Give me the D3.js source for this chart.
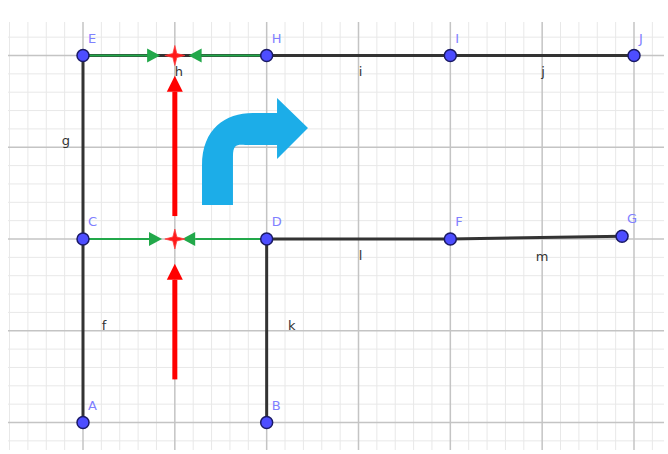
<!DOCTYPE html>
<html>
<head>
<meta charset="utf-8">
<script src="https://cdn.jsdelivr.net/npm/d3@7"></script>
<style>
  html, body { margin: 0; padding: 0; background: #fff; }
  svg { display: block; }
</style>
</head>
<body>
<svg id="chart"></svg>
<script>
// points of the figure (grid units)
var pointNames = ["A", "B", "C", "D", "E", "F", "G", "H", "I", "J"];
var pointX     = [0,   2,   0,   2,   0,   4,   5.87, 2,  4,   6];
var pointY     = [0,   0,   2,   2,   4,   2,   2.03, 4,  4,   4];

// segments: name, from, to
var segNames = ["f", "g", "h", "i", "j", "k", "l", "m"];
var segFrom  = ["C", "E", "E", "H", "I", "D", "D", "F"];
var segTo    = ["A", "C", "H", "I", "J", "B", "F", "G"];

// green vectors (start point -> tip)
var greenStartX = [0, 2, 0, 2];
var greenTipX   = [0.84, 1.15, 0.86, 1.08];
var greenY      = [4, 4, 2, 2];

// red vectors (vertical, x = 1)
var redX     = [1, 1];
var redStart = [2.25, 0.47];
var redTip   = [3.78, 1.73];

// red crossing points
var crossX = [1, 1];
var crossY = [4, 2];

var W = 668, H = 454;

var svg = d3.select("#chart").attr("width", W).attr("height", H);

var x = d3.scaleLinear().domain([0, 6]).range([83, 634]);
var y = d3.scaleLinear().domain([0, 4]).range([422.5, 55.5]);

var gridLeft = 8, gridRight = 664, gridTop = 22, gridBottom = 450;

svg.append("clipPath").attr("id", "gclip")
  .append("rect")
  .attr("x", gridLeft).attr("y", gridTop)
  .attr("width", gridRight - gridLeft).attr("height", gridBottom - gridTop);

var grid = svg.append("g").attr("clip-path", "url(#gclip)");

// minor grid every 0.2, major every 1
var xs = d3.range(-0.8, 6.41, 0.2).map(function(v){ return Math.round(v * 10) / 10; });
var ys = d3.range(-0.4, 4.41, 0.2).map(function(v){ return Math.round(v * 10) / 10; });
function isMajor(v){ return Math.abs(v - Math.round(v)) < 0.01; }

grid.selectAll("line.vx")
  .data(xs.filter(function(v){ return !isMajor(v); }))
  .enter().append("line")
  .attr("x1", function(d){ return x(d); }).attr("x2", function(d){ return x(d); })
  .attr("y1", gridTop).attr("y2", gridBottom)
  .attr("stroke", "#e8e8e8").attr("stroke-width", 1);

grid.selectAll("line.hy")
  .data(ys.filter(function(v){ return !isMajor(v); }))
  .enter().append("line")
  .attr("y1", function(d){ return y(d); }).attr("y2", function(d){ return y(d); })
  .attr("x1", gridLeft).attr("x2", gridRight)
  .attr("stroke", "#e8e8e8").attr("stroke-width", 1);

grid.selectAll("line.vmaj")
  .data(xs.filter(isMajor))
  .enter().append("line")
  .attr("x1", function(d){ return x(d); }).attr("x2", function(d){ return x(d); })
  .attr("y1", gridTop).attr("y2", gridBottom)
  .attr("stroke", "#c4c4c4").attr("stroke-width", 1.5);

grid.selectAll("line.hmaj")
  .data(ys.filter(isMajor))
  .enter().append("line")
  .attr("y1", function(d){ return y(d); }).attr("y2", function(d){ return y(d); })
  .attr("x1", gridLeft).attr("x2", gridRight)
  .attr("stroke", "#c4c4c4").attr("stroke-width", 1.5);

function pt(name){
  var i = pointNames.indexOf(name);
  return [pointX[i], pointY[i]];
}

// black segments
var segs = segNames.map(function(n, i){
  return { name: n, a: pt(segFrom[i]), b: pt(segTo[i]) };
});

svg.selectAll("line.seg")
  .data(segs).enter().append("line")
  .attr("x1", function(d){ return x(d.a[0]); })
  .attr("y1", function(d){ return y(d.a[1]); })
  .attr("x2", function(d){ return x(d.b[0]); })
  .attr("y2", function(d){ return y(d.b[1]); })
  .attr("stroke", "#333").attr("stroke-width", 3).attr("stroke-linecap", "round");

// segment labels, placed relative to midpoint
var segLabelOff = { f: [21, -1], g: [-17, -2], h: [4, 20], i: [2, 20], j: [1, 20], k: [25, -1], l: [2, 21], m: [6, 23] };
svg.selectAll("text.seg")
  .data(segs).enter().append("text")
  .attr("x", function(d){ return (x(d.a[0]) + x(d.b[0])) / 2 + segLabelOff[d.name][0]; })
  .attr("y", function(d){ return (y(d.a[1]) + y(d.b[1])) / 2 + segLabelOff[d.name][1]; })
  .attr("text-anchor", "middle")
  .attr("font-family", "DejaVu Sans, sans-serif")
  .attr("font-size", 13)
  .attr("fill", "#333")
  .text(function(d){ return d.name; });

// green vectors
var greens = greenY.map(function(v, i){ return { x0: greenStartX[i], x1: greenTipX[i], y: v }; });
var gHead = 13, gHalf = 7;
svg.selectAll("line.green")
  .data(greens).enter().append("line")
  .attr("x1", function(d){ return x(d.x0); })
  .attr("x2", function(d){ var dir = Math.sign(d.x1 - d.x0); return x(d.x1) - dir * gHead; })
  .attr("y1", function(d){ return y(d.y); }).attr("y2", function(d){ return y(d.y); })
  .attr("stroke", "#22a84a").attr("stroke-width", 2.2);
svg.selectAll("path.ghead")
  .data(greens).enter().append("path")
  .attr("d", function(d){
    var dir = Math.sign(d.x1 - d.x0), tx = x(d.x1), ty = y(d.y);
    return "M" + tx + "," + ty + "L" + (tx - dir * gHead) + "," + (ty - gHalf) +
           "L" + (tx - dir * gHead) + "," + (ty + gHalf) + "Z";
  })
  .attr("fill", "#22a84a");

// red vectors
var reds = redX.map(function(v, i){ return { x: v, y0: redStart[i], y1: redTip[i] }; });
var rHead = 16, rHalf = 8;
svg.selectAll("line.red")
  .data(reds).enter().append("line")
  .attr("x1", function(d){ return x(d.x); }).attr("x2", function(d){ return x(d.x); })
  .attr("y1", function(d){ return y(d.y0); })
  .attr("y2", function(d){ return y(d.y1) + rHead; })
  .attr("stroke", "#ff0000").attr("stroke-width", 5);
svg.selectAll("path.rhead")
  .data(reds).enter().append("path")
  .attr("d", function(d){
    var tx = x(d.x), ty = y(d.y1);
    return "M" + tx + "," + ty + "L" + (tx - rHalf) + "," + (ty + rHead) +
           "L" + (tx + rHalf) + "," + (ty + rHead) + "Z";
  })
  .attr("fill", "#ff0000");

// blue turn-right arrow, outline in grid units
var turnArrow = [
  ["M", 1.296, 2.37],
  ["L", 1.296, 2.80],
  ["C", 1.296, 3.20, 1.55, 3.373, 1.85, 3.373],
  ["L", 2.113, 3.373],
  ["L", 2.113, 3.537],
  ["L", 2.45, 3.21],
  ["L", 2.113, 2.872],
  ["L", 2.113, 3.024],
  ["L", 1.82, 3.024],
  ["C", 1.70, 3.024, 1.633, 3.06, 1.633, 2.90],
  ["L", 1.633, 2.37],
  ["Z"]
];
var turnPath = turnArrow.map(function(c){
  var s = c[0];
  for (var k = 1; k < c.length; k += 2) {
    s += (k > 1 ? "," : "") + x(c[k]) + "," + y(c[k + 1]);
  }
  return s;
}).join("");
svg.append("path").attr("d", turnPath).attr("fill", "#1cade8");

// red crossing marks
var crosses = crossX.map(function(v, i){ return { x: v, y: crossY[i] }; });
svg.selectAll("path.cross")
  .data(crosses).enter().append("path")
  .attr("d", function(d){
    var cx = x(d.x), cy = y(d.y), a = 10, w = 2;
    return "M" + (cx - a) + "," + cy +
      "L" + (cx - w) + "," + (cy - w) + "L" + cx + "," + (cy - a) +
      "L" + (cx + w) + "," + (cy - w) + "L" + (cx + a) + "," + cy +
      "L" + (cx + w) + "," + (cy + w) + "L" + cx + "," + (cy + a) +
      "L" + (cx - w) + "," + (cy + w) + "Z";
  })
  .attr("fill", "#ff1a1a").attr("stroke", "#ff4040").attr("stroke-width", 0.8);

// points
var pts = pointNames.map(function(n, i){ return { name: n, x: pointX[i], y: pointY[i] }; });
svg.selectAll("circle.pt")
  .data(pts).enter().append("circle")
  .attr("cx", function(d){ return x(d.x); })
  .attr("cy", function(d){ return y(d.y); })
  .attr("r", 6)
  .attr("fill", "#4d4dff")
  .attr("stroke", "#1a1a66").attr("stroke-width", 1.5);

svg.selectAll("text.pt")
  .data(pts).enter().append("text")
  .attr("x", function(d){ return x(d.x) + 5; })
  .attr("y", function(d){ return y(d.y) - 13; })
  .attr("font-family", "DejaVu Sans, sans-serif")
  .attr("font-size", 13)
  .attr("fill", "#8080ff")
  .text(function(d){ return d.name; });
</script>
</body>
</html>
